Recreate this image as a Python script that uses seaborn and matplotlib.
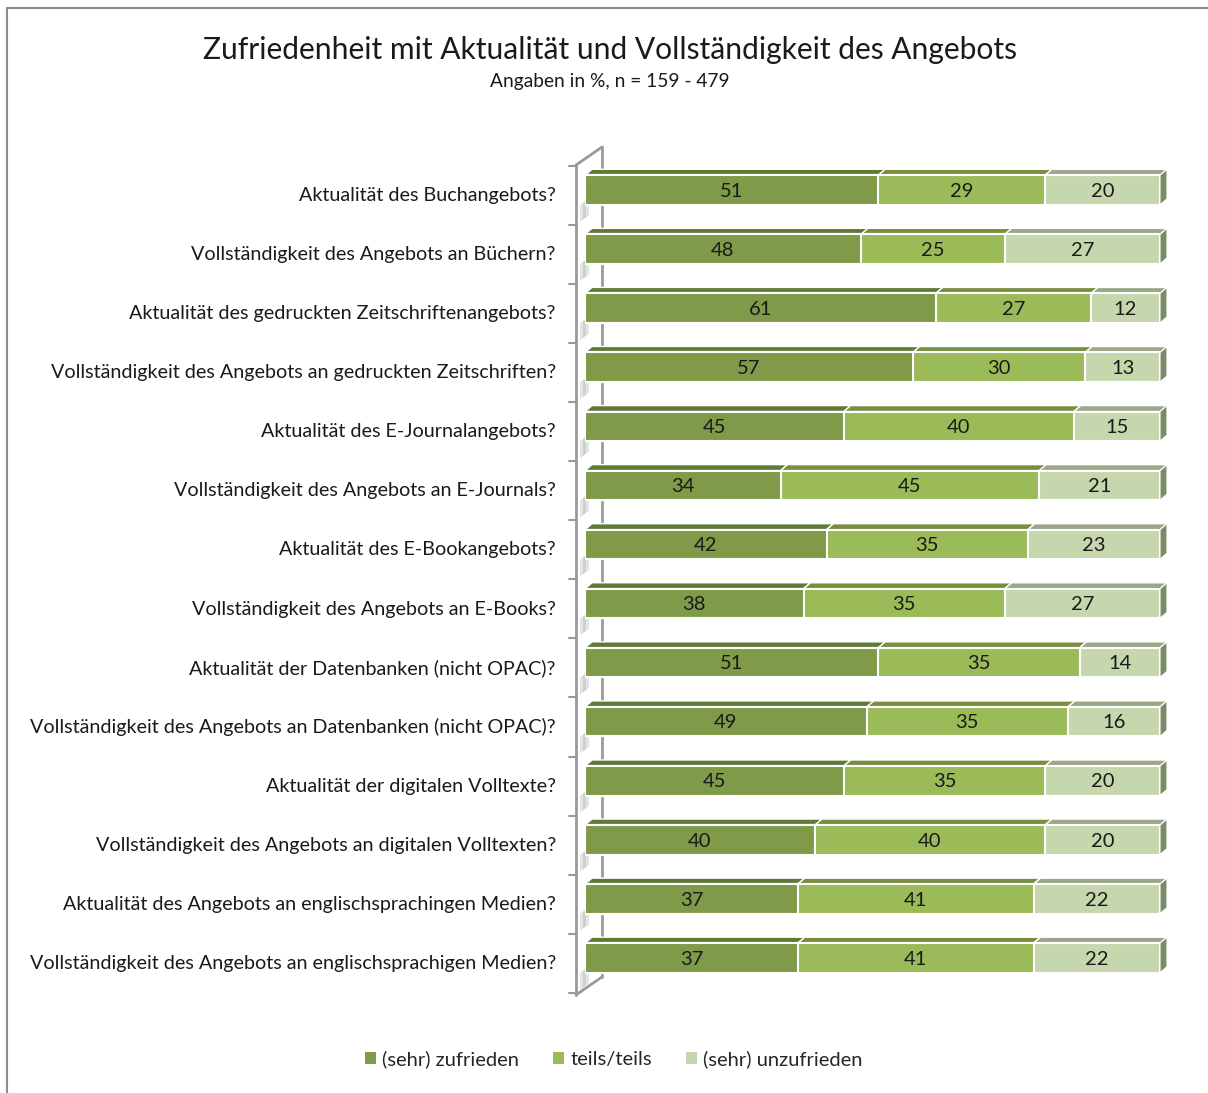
import matplotlib
matplotlib.use("Agg")
import numpy as np
import pandas as pd
import matplotlib.pyplot as plt
import seaborn as sns
from matplotlib.patches import Polygon, Patch
from matplotlib.lines import Line2D
from matplotlib.transforms import ScaledTranslation

# ============================================
# DATEN
# ============================================

fragen = [
    "Aktualität des Buchangebots?",
    "Vollständigkeit des Angebots an Büchern?",
    "Aktualität des gedruckten Zeitschriftenangebots?",
    "Vollständigkeit des Angebots an gedruckten Zeitschriften?",
    "Aktualität des E-Journalangebots?",
    "Vollständigkeit des Angebots an E-Journals?",
    "Aktualität des E-Bookangebots?",
    "Vollständigkeit des Angebots an E-Books?",
    "Aktualität der Datenbanken (nicht OPAC)?",
    "Vollständigkeit des Angebots an Datenbanken (nicht OPAC)?",
    "Aktualität der digitalen Volltexte?",
    "Vollständigkeit des Angebots an digitalen Volltexten?",
    "Aktualität des Angebots an englischsprachingen Medien?",
    "Vollständigkeit des Angebots an englischsprachigen Medien?",
]
zufrieden = [51, 48, 61, 57, 45, 34, 42, 38, 51, 49, 45, 40, 37, 37]
teils = [29, 25, 27, 30, 40, 45, 35, 35, 35, 35, 35, 40, 41, 41]
unzufrieden = [20, 27, 12, 13, 15, 21, 23, 27, 14, 16, 20, 20, 22, 22]

serien = ["(sehr) zufrieden", "teils/teils", "(sehr) unzufrieden"]

# Farben (Vorderseite, Oberseite)
DUNKEL, DUNKEL_OBEN = "#7f9a48", "#5f7a36"
MITTEL, MITTEL_OBEN = "#9bbb59", "#778f3f"
HELL, HELL_OBEN = "#c6d7ad", "#9aa888"
SEITE = "#7d8a6a"
RAHMEN = "#8c8c8c"

df = pd.DataFrame({"frage": fragen, "zufrieden": zufrieden,
                   "teils": teils, "unzufrieden": unzufrieden})
df["bis_teils"] = df["zufrieden"] + df["teils"]
df["gesamt"] = df["bis_teils"] + df["unzufrieden"]

# ============================================
# LAYOUT
# ============================================

W, H = 1208, 1093
sns.set_style("white")
plt.rcParams["font.family"] = ["Lato", "DejaVu Sans"]

fig = plt.figure(figsize=(W / 100, H / 100), dpi=100)
ax = fig.add_axes([585 / W, 1 - 987.5 / H, 575 / W, 827 / H])

# gestapelte Balken: Summen von hinten nach vorne
for spalte, farbe in [("gesamt", HELL), ("bis_teils", MITTEL), ("zufrieden", DUNKEL)]:
    sns.barplot(data=df, x=spalte, y="frage", color=farbe, width=0.5,
                saturation=1, edgecolor="white", linewidth=1.5, ax=ax, zorder=3)

ax.set_xlim(0, 100)
ax.set_ylim(len(fragen) - 0.5, -0.5)

# Pixel -> Dateneinheiten
px_x = 100 / 575
px_y = 1 / 59.08
dx, dy = 7 * px_x, 6 * px_y
halb = 0.25

# 3D-Effekt: Oberseiten und rechte Seitenflaeche
for i, row in df.iterrows():
    segmente = [(0, row["zufrieden"], DUNKEL_OBEN),
                (row["zufrieden"], row["bis_teils"], MITTEL_OBEN),
                (row["bis_teils"], row["gesamt"], HELL_OBEN)]
    oben = i - halb
    for l, r, c in segmente:
        ax.add_patch(Polygon([(l, oben), (r, oben), (r + dx, oben - dy), (l + dx, oben - dy)],
                             closed=True, facecolor=c, edgecolor="white", lw=1,
                             clip_on=False, zorder=2))
    g = row["gesamt"]
    ax.add_patch(Polygon([(g, oben), (g + dx, oben - dy), (g + dx, i + halb - dy), (g, i + halb)],
                         closed=True, facecolor=SEITE, edgecolor="white", lw=0.8,
                         clip_on=False, zorder=2))
    # Werte
    for start, wert in [(0, row["zufrieden"]), (row["zufrieden"], row["teils"]),
                        (row["bis_teils"], row["unzufrieden"])]:
        ax.text(start + wert / 2, i + 0.02, str(wert), ha="center", va="center",
                fontsize=14.5, color="#1a1a1a", zorder=5)

# Wand links
xf, xb = -9 * px_x, 17 * px_x
yf_top, yf_bot = -25 * px_y, 805 * px_y
wand = dict(color="#9a9a9a", lw=2, clip_on=False, zorder=1)
ax.plot([xf, xf], [yf_top, yf_bot], **wand)
ax.plot([xb, xb], [yf_top - 18 * px_y, yf_bot - 18 * px_y], **wand)
ax.plot([xf, xb], [yf_top, yf_top - 18 * px_y], **wand)
ax.plot([xf, xb], [yf_bot, yf_bot - 18 * px_y], **wand)
for k in range(len(fragen) + 1):
    yt = k - 0.5 + 0.09
    ax.plot([xf - 7 * px_x, xf], [yt, yt], color="#9a9a9a", lw=1.5, clip_on=False, zorder=1)
    if k > 0:
        # kleiner Schatten auf der Wand
        for j, grau in enumerate(["#e4e4e4", "#cfcfcf", "#e4e4e4"]):
            x0 = xf + (4 + 3 * j) * px_x
            x1 = x0 + 3 * px_x
            ax.add_patch(Polygon([(x0, yt - (3 + 2.2 * j) * px_y), (x1, yt - (5.2 + 2.2 * j) * px_y),
                                  (x1, yt - (22 + 2.2 * j) * px_y), (x0, yt - (20 + 2.2 * j) * px_y)],
                                 closed=True, facecolor=grau, edgecolor="none",
                                 clip_on=False, zorder=1))

# Achsen aufraeumen
ax.set_xlabel("")
ax.set_ylabel("")
ax.set_xticks([])
for s in ax.spines.values():
    s.set_visible(False)
ax.tick_params(axis="y", length=0, pad=21, labelsize=14.2, labelcolor="#1a1a1a")
versatz = ScaledTranslation(0, -4 / 100, fig.dpi_scale_trans)
for lab in ax.get_yticklabels():
    lab.set_transform(lab.get_transform() + versatz)

# Titel
fig.text(0.505, 1 - 50 / H, "Zufriedenheit mit Aktualität und Vollständigkeit des Angebots",
         ha="center", va="center", fontsize=21.6, color="#1a1a1a")
fig.text(0.505, 1 - 82 / H, "Angaben in %, n = 159 - 479",
         ha="center", va="center", fontsize=13.8, color="#1a1a1a")

# Legende
handles = [Patch(facecolor=c, edgecolor="none") for c in (DUNKEL, MITTEL, HELL)]
fig.legend(handles, serien, loc="center", bbox_to_anchor=(0.508, 1 - 1059 / H), ncol=3,
           frameon=False, fontsize=14.5, handlelength=0.55, handleheight=0.55,
           handletextpad=0.3, columnspacing=1.7)

# Rahmen
fig.add_artist(Line2D([7 / W, 1], [1 - 8 / H, 1 - 8 / H], transform=fig.transFigure,
                      color=RAHMEN, lw=1.5))
fig.add_artist(Line2D([7 / W, 7 / W], [0, 1 - 8 / H], transform=fig.transFigure,
                      color=RAHMEN, lw=1.5))

fig.savefig("out.png", dpi=100)
